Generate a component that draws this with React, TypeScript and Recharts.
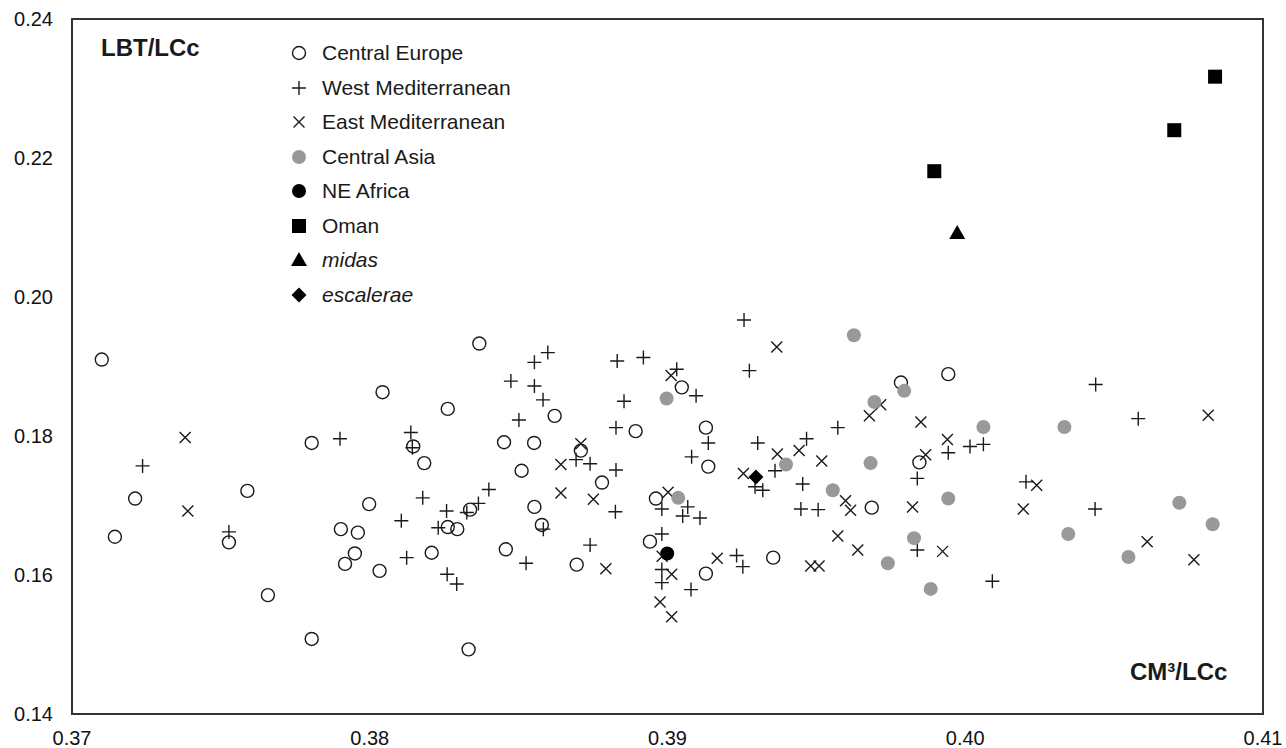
import { ScatterChart, Scatter, XAxis, YAxis, ReferenceArea } from 'recharts';

const FONT = 'Arial, "Liberation Sans", Helvetica, sans-serif';
const INK = '#1a1a1a';

// [CM3/LCc, LBT/LCc]
const centralEurope: [number, number][] = [
  [0.3710, 0.1910], [0.37212, 0.1710], [0.37144, 0.1655], [0.37527, 0.1647], [0.37589, 0.1721],
  [0.37805, 0.1790], [0.37903, 0.1666], [0.37960, 0.1661], [0.37950, 0.1631], [0.37917, 0.1616],
  [0.37658, 0.1571], [0.37805, 0.1508], [0.37998, 0.1702], [0.38368, 0.1933], [0.38043, 0.1863],
  [0.38262, 0.1839], [0.38621, 0.1829], [0.38893, 0.1807], [0.38146, 0.1785], [0.38183, 0.1761],
  [0.38451, 0.1791], [0.38552, 0.1790], [0.38510, 0.1750], [0.38709, 0.1779], [0.38780, 0.1733],
  [0.38337, 0.1694], [0.38262, 0.1669], [0.38294, 0.1666], [0.38553, 0.1698], [0.38578, 0.1672],
  [0.38208, 0.1632], [0.38033, 0.1606], [0.38457, 0.1637], [0.38695, 0.1615], [0.38332, 0.1493],
  [0.38941, 0.1648], [0.38961, 0.1710], [0.39048, 0.1870], [0.39129, 0.1812], [0.39137, 0.1756],
  [0.39129, 0.1602], [0.39355, 0.1625], [0.39686, 0.1697], [0.39784, 0.1877], [0.39943, 0.1889],
  [0.39846, 0.1762],
];

const westMediterranean: [number, number][] = [
  [0.37237, 0.1757], [0.37527, 0.1662], [0.37900, 0.1796], [0.38598, 0.1920], [0.38553, 0.1906],
  [0.38831, 0.1908], [0.38919, 0.1913], [0.38474, 0.1879], [0.38553, 0.1872], [0.38582, 0.1852],
  [0.38854, 0.1850], [0.38501, 0.1823], [0.38827, 0.1812], [0.38138, 0.1805], [0.38143, 0.1783],
  [0.38693, 0.1766], [0.38740, 0.1760], [0.38827, 0.1751], [0.38825, 0.1691], [0.38400, 0.1723],
  [0.38178, 0.1711], [0.38365, 0.1703], [0.38326, 0.1690], [0.38258, 0.1692], [0.38106, 0.1678],
  [0.38230, 0.1668], [0.38583, 0.1666], [0.38124, 0.1625], [0.38260, 0.1601], [0.38292, 0.1587],
  [0.38525, 0.1617], [0.38740, 0.1643], [0.39257, 0.1967], [0.39031, 0.1896], [0.39096, 0.1858],
  [0.39275, 0.1894], [0.39572, 0.1812], [0.39137, 0.1790], [0.39303, 0.1790], [0.39467, 0.1796],
  [0.39943, 0.1776], [0.39081, 0.1770], [0.39361, 0.1750], [0.39294, 0.1727], [0.39320, 0.1722],
  [0.39454, 0.1731], [0.39839, 0.1739], [0.39448, 0.1695], [0.39506, 0.1694], [0.38981, 0.1695],
  [0.39068, 0.1698], [0.39051, 0.1685], [0.39109, 0.1682], [0.39839, 0.1636], [0.38981, 0.1659],
  [0.38981, 0.1608], [0.38981, 0.1589], [0.39079, 0.1579], [0.39232, 0.1628], [0.39253, 0.1612],
  [0.40438, 0.1874], [0.40581, 0.1825], [0.40016, 0.1785], [0.40061, 0.1788], [0.40204, 0.1734],
  [0.40436, 0.1695], [0.40091, 0.1591],
];

const eastMediterranean: [number, number][] = [
  [0.37380, 0.1798], [0.37389, 0.1692], [0.38709, 0.1789], [0.38642, 0.1759], [0.38642, 0.1718],
  [0.38751, 0.1709], [0.38793, 0.1609], [0.39367, 0.1928], [0.39012, 0.1887], [0.39716, 0.1845],
  [0.39678, 0.1829], [0.39851, 0.1820], [0.39442, 0.1779], [0.39369, 0.1774], [0.39518, 0.1764],
  [0.39940, 0.1795], [0.39867, 0.1773], [0.39255, 0.1746], [0.39598, 0.1707], [0.39615, 0.1693],
  [0.39823, 0.1698], [0.39002, 0.1719], [0.39572, 0.1656], [0.39639, 0.1636], [0.39924, 0.1634],
  [0.38982, 0.1627], [0.39014, 0.1601], [0.38975, 0.1561], [0.39014, 0.1540], [0.39167, 0.1624],
  [0.39481, 0.1613], [0.39509, 0.1613], [0.40816, 0.1830], [0.40240, 0.1729], [0.40195, 0.1695],
  [0.40611, 0.1648], [0.40768, 0.1622],
];

const centralAsia: [number, number][] = [
  [0.39626, 0.1945], [0.38997, 0.1854], [0.39795, 0.1865], [0.39695, 0.1849], [0.39398, 0.1759],
  [0.39682, 0.1761], [0.39555, 0.1722], [0.39036, 0.1711], [0.39943, 0.1710], [0.39828, 0.1653],
  [0.39740, 0.1617], [0.39884, 0.1580], [0.40061, 0.1813], [0.40333, 0.1813], [0.40346, 0.1659],
  [0.40548, 0.1626], [0.40719, 0.1704], [0.40831, 0.1673],
];

const neAfrica: [number, number][] = [[0.38999, 0.1631]];
const oman: [number, number][] = [[0.40839, 0.2317], [0.40702, 0.2240], [0.39896, 0.2181]];
const midas: [number, number][] = [[0.39973, 0.2092]];
const escalerae: [number, number][] = [[0.39297, 0.1741]];

const xTicks = [0.37, 0.38, 0.39, 0.40, 0.41];
const yTicks = [0.14, 0.16, 0.18, 0.20, 0.22, 0.24];

const toPoints = (pairs: [number, number][]) => pairs.map(([x, y]) => ({ x, y }));

const OpenCircle = ({ cx, cy }: any) => (
  <circle cx={cx} cy={cy} r={6.5} fill="none" stroke={INK} strokeWidth={1.4} />
);
const PlusMark = ({ cx, cy }: any) => (
  <path d={`M${cx - 7},${cy}H${cx + 7}M${cx},${cy - 7}V${cy + 7}`} stroke={INK} strokeWidth={1.4} fill="none" />
);
const CrossMark = ({ cx, cy }: any) => (
  <path d={`M${cx - 5.5},${cy - 5.5}L${cx + 5.5},${cy + 5.5}M${cx + 5.5},${cy - 5.5}L${cx - 5.5},${cy + 5.5}`}
    stroke={INK} strokeWidth={1.4} fill="none" />
);
const GrayDot = ({ cx, cy }: any) => <circle cx={cx} cy={cy} r={7} fill="#999999" />;
const BlackDot = ({ cx, cy }: any) => <circle cx={cx} cy={cy} r={7} fill="#000" />;
const SquareMark = ({ cx, cy }: any) => <rect x={cx - 7} y={cy - 7} width={14} height={14} fill="#000" />;
const TriangleMark = ({ cx, cy }: any) => (
  <path d={`M${cx},${cy - 8}L${cx + 8},${cy + 6}L${cx - 8},${cy + 6}Z`} fill="#000" />
);
const DiamondMark = ({ cx, cy }: any) => (
  <path d={`M${cx},${cy - 7.5}L${cx + 7.5},${cy}L${cx},${cy + 7.5}L${cx - 7.5},${cy}Z`} fill="#000" />
);

const series = [
  { name: 'Central Europe', data: centralEurope, Mark: OpenCircle, italic: false },
  { name: 'West Mediterranean', data: westMediterranean, Mark: PlusMark, italic: false },
  { name: 'East Mediterranean', data: eastMediterranean, Mark: CrossMark, italic: false },
  { name: 'Central Asia', data: centralAsia, Mark: GrayDot, italic: false },
  { name: 'NE Africa', data: neAfrica, Mark: BlackDot, italic: false },
  { name: 'Oman', data: oman, Mark: SquareMark, italic: false },
  { name: 'midas', data: midas, Mark: TriangleMark, italic: true },
  { name: 'escalerae', data: escalerae, Mark: DiamondMark, italic: true },
];

const LegendBox = () => (
  <div style={{ position: 'absolute', left: 289, top: 36, fontSize: 21, color: INK }}>
    {series.map(({ name, Mark, italic }) => (
      <div key={name} style={{ display: 'flex', alignItems: 'center', height: 34.5 }}>
        <svg width={20} height={20} style={{ overflow: 'visible' }}>
          <Mark cx={10} cy={10} />
        </svg>
        <span style={{ marginLeft: 13, fontStyle: italic ? 'italic' : 'normal' }}>{name}</span>
      </div>
    ))}
  </div>
);

export default function App() {
  return (
    <div style={{ position: 'absolute', left: 0, top: 0, width: 1286, height: 748, background: '#fff', fontFamily: FONT }}>
      <ScatterChart width={1286} height={748} margin={{ top: 19, right: 23, left: 0, bottom: 0 }}>
        <XAxis
          type="number" dataKey="x" domain={[0.37, 0.41]} ticks={xTicks} allowDataOverflow
          tickFormatter={(v: number) => v.toFixed(2)} height={34}
          axisLine={false} tickLine={false} tickSize={0} tickMargin={17}
          tick={{ fill: '#111', fontSize: 20, fontFamily: FONT }}
        />
        <YAxis
          type="number" dataKey="y" domain={[0.14, 0.24]} ticks={yTicks} allowDataOverflow
          tickFormatter={(v: number) => v.toFixed(2)} width={72}
          axisLine={false} tickLine={false} tickSize={0} tickMargin={19}
          tick={{ fill: '#111', fontSize: 20, fontFamily: FONT }}
        />
        <ReferenceArea x1={0.37} x2={0.41} y1={0.14} y2={0.24} fill="none" stroke="#333" strokeWidth={2} ifOverflow="visible" />
        {series.map(({ name, data, Mark }) => (
          <Scatter
            key={name} name={name} data={toPoints(data)} isAnimationActive={false}
            shape={(p: any) => <Mark cx={p.cx} cy={p.cy} />}
          />
        ))}
      </ScatterChart>
      <LegendBox />
      <div style={{ position: 'absolute', left: 101, top: 33, fontSize: 24, fontWeight: 'bold', color: INK, lineHeight: '30px' }}>
        LBT/LCc
      </div>
      <div style={{ position: 'absolute', left: 1130, top: 657, fontSize: 24, fontWeight: 'bold', color: INK, lineHeight: '30px' }}>
        CM³/LCc
      </div>
    </div>
  );
}
